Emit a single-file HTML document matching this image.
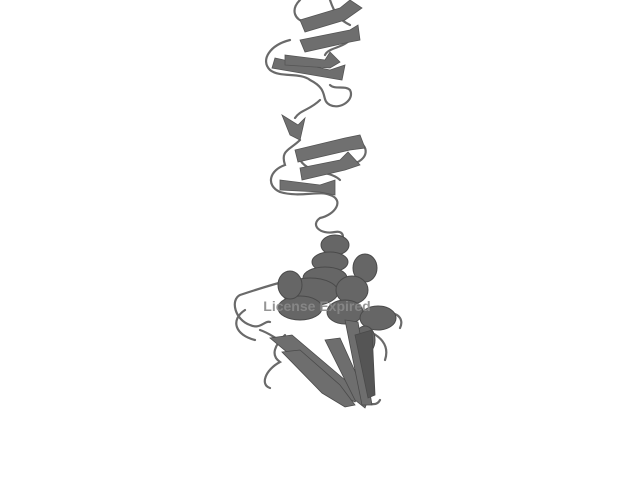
<!DOCTYPE html>
<html><head><meta charset="utf-8"><style>
html,body{margin:0;padding:0;background:#fff;width:640px;height:480px;overflow:hidden}
svg{display:block}
</style></head><body>
<svg width="640" height="480" viewBox="0 0 640 480">
<g fill="none" stroke="#6a6a6a" stroke-width="2.2" stroke-linecap="round">
<path d="M300 0 C290 10 295 20 305 22 M330 0 C335 15 340 20 350 25 M355 30 C350 50 330 45 325 55 M290 40 C270 45 260 60 270 70 C280 78 300 72 310 80 C330 90 320 100 330 105 C340 110 355 100 350 90 C345 85 335 90 330 85"/>
<path d="M320 100 C310 110 300 110 295 118 M300 140 C290 150 280 150 285 165 C270 170 265 185 280 192 C300 198 320 190 330 195 C345 200 335 215 320 218 C310 225 320 235 335 232 C345 230 345 240 338 245"/>
<path d="M355 140 C370 145 370 160 350 165 M300 160 C310 175 330 170 340 180"/>
<path d="M290 280 C270 285 255 290 240 295 C230 300 235 320 250 325 C260 330 265 320 270 322 M245 310 C230 320 235 335 255 340 M260 330 C275 335 280 345 290 340"/>
<path d="M285 335 C275 345 270 355 280 362 C265 370 260 385 270 388 M350 390 C360 400 375 410 380 400 M365 330 C380 335 390 345 385 360 M385 315 C395 310 405 318 400 328"/>
</g>
<g fill="#6e6e6e" stroke="#555" stroke-width="0.8">
<path d="M300 20 L340 8 L350 0 L362 8 L345 20 L305 32 Z"/>
<path d="M300 40 L350 30 L358 25 L360 40 L350 42 L305 52 Z"/>
<path d="M275 58 L330 70 L345 65 L342 80 L330 78 L272 68 Z"/>
<path d="M285 55 L325 60 L330 52 L340 62 L330 68 L285 65 Z"/>
</g>
<g fill="#707070" stroke="#555" stroke-width="0.8">
<path d="M295 150 L345 138 L360 135 L365 148 L350 150 L298 162 Z"/>
<path d="M300 168 L340 160 L348 152 L360 165 L345 170 L302 180 Z"/>
<path d="M280 180 L320 185 L335 180 L335 195 L320 192 L280 190 Z"/>
<path d="M282 115 L298 125 L305 118 L300 140 L290 135 Z"/>
</g>
<g fill="#666" stroke="#4a4a4a" stroke-width="1">
<ellipse cx="335" cy="245" rx="14" ry="10"/>
<ellipse cx="330" cy="262" rx="18" ry="10"/>
<ellipse cx="325" cy="278" rx="22" ry="11"/>
<ellipse cx="310" cy="292" rx="28" ry="14"/>
<ellipse cx="300" cy="308" rx="22" ry="12"/>
<ellipse cx="365" cy="268" rx="12" ry="14"/>
<ellipse cx="352" cy="290" rx="16" ry="14"/>
<ellipse cx="345" cy="312" rx="18" ry="12"/>
<ellipse cx="378" cy="318" rx="18" ry="12"/>
<ellipse cx="290" cy="285" rx="12" ry="14"/>
<ellipse cx="365" cy="340" rx="10" ry="14"/>
</g>
<g fill="#6e6e6e" stroke="#4a4a4a" stroke-width="0.8">
<path d="M270 338 L292 335 L345 380 L360 395 L355 402 L335 392 Z"/>
<path d="M282 352 L300 350 L340 385 L355 405 L345 407 L322 393 Z"/>
<path d="M325 340 L340 338 L368 400 L365 408 L355 400 Z"/>
<path d="M345 320 L358 322 L372 405 L362 405 Z"/>
<path d="M355 335 L372 330 L375 395 L368 398 Z" fill="#555"/>
</g>
<text x="317" y="311" text-anchor="middle" font-family="Liberation Sans, sans-serif" font-weight="bold" font-size="14" fill="#8a8a8a" fill-opacity="0.9">License Expired</text>
</svg>
</body></html>
